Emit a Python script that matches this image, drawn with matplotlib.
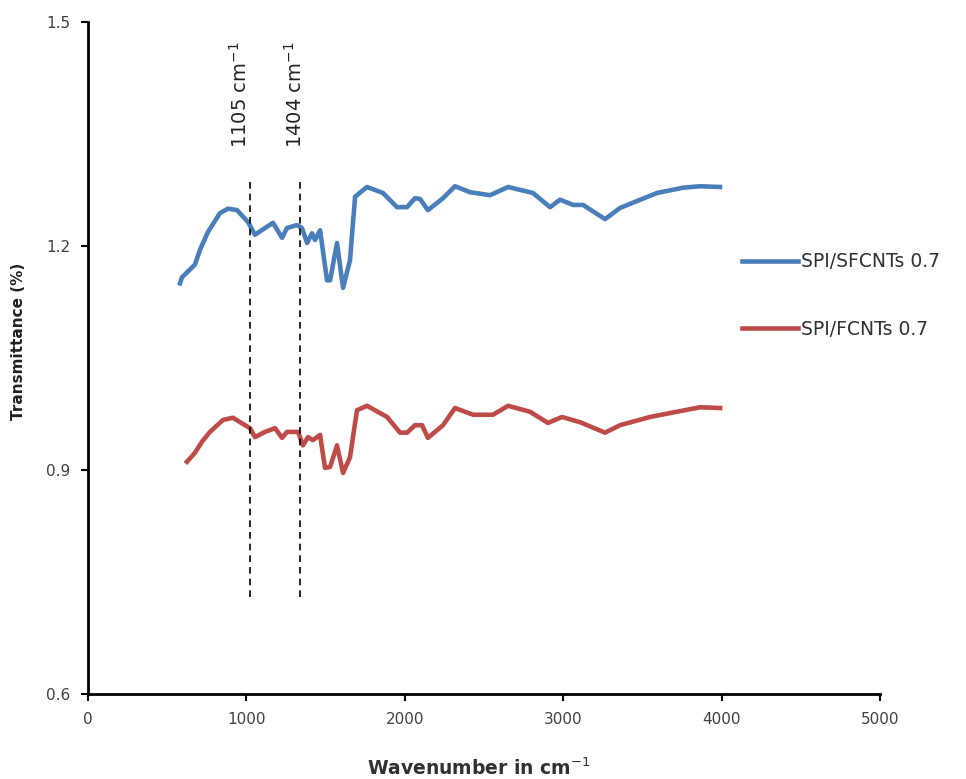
import numpy as np
import matplotlib.pyplot as plt

# - FTIR transmittance spectra
wn_sfcnt = [581, 593, 675, 707, 758, 833, 884, 941, 1010, 1054, 1117, 1168,
            1225, 1256, 1319, 1351, 1383, 1414, 1433, 1465, 1509, 1528, 1572,
            1610, 1654, 1686, 1761, 1862, 1951, 2014, 2064, 2096, 2146, 2241,
            2317, 2412, 2538, 2652, 2809, 2917, 2980, 3062, 3125, 3264, 3359,
            3592, 3756, 3864, 3990]
tr_sfcnt = [1.150, 1.158, 1.175, 1.195, 1.219, 1.244, 1.250, 1.248, 1.232,
            1.215, 1.224, 1.231, 1.211, 1.224, 1.228, 1.224, 1.204, 1.217,
            1.208, 1.221, 1.154, 1.154, 1.204, 1.144, 1.181, 1.266, 1.279,
            1.271, 1.252, 1.252, 1.264, 1.263, 1.248, 1.264, 1.280, 1.272,
            1.268, 1.279, 1.271, 1.252, 1.262, 1.255, 1.255, 1.236, 1.251,
            1.271, 1.278, 1.280, 1.279]

wn_fcnt = [625, 675, 720, 770, 852, 915, 960, 1023, 1054, 1117, 1181, 1225,
           1256, 1326, 1357, 1389, 1420, 1465, 1496, 1528, 1572, 1610, 1654,
           1698, 1761, 1888, 1970, 2014, 2064, 2109, 2146, 2241, 2317, 2431,
           2557, 2652, 2790, 2904, 2992, 3106, 3264, 3359, 3548, 3718, 3864,
           3990]
tr_fcnt = [0.911, 0.923, 0.938, 0.951, 0.967, 0.970, 0.964, 0.956, 0.944,
           0.951, 0.956, 0.943, 0.951, 0.951, 0.933, 0.944, 0.940, 0.947,
           0.903, 0.904, 0.933, 0.896, 0.917, 0.980, 0.986, 0.971, 0.950,
           0.950, 0.960, 0.960, 0.943, 0.960, 0.983, 0.974, 0.974, 0.986,
           0.978, 0.963, 0.971, 0.964, 0.950, 0.960, 0.971, 0.978, 0.984,
           0.983]

labels = ['SPI/SFCNTs 0.7', 'SPI/FCNTs 0.7']

# - marker bands (line position, label text)
band_x = [1023, 1338]
band_text = ['1105 cm$^{-1}$', '1404 cm$^{-1}$']
band_text_x = [960, 1308]

x_ticks = [0, 1000, 2000, 3000, 4000, 5000]
y_ticks = [0.6, 0.9, 1.2, 1.5]

fig = plt.figure(figsize=(9.66, 7.79), dpi=100)
ax = fig.add_axes([0.0911, 0.1091, 0.8199, 0.8627])

ax.plot(wn_sfcnt, tr_sfcnt, color='#4a7ebb', lw=3.3, label=labels[0],
        solid_joinstyle='round')
ax.plot(wn_fcnt, tr_fcnt, color='#be4b48', lw=3.3, label=labels[1],
        solid_joinstyle='round')

ax.vlines(band_x, 0.730, 1.288, colors='k', linestyles=(0, (4, 3)), lw=1.2)
for xt, txt in zip(band_text_x, band_text):
    ax.text(xt, 1.402, txt, rotation=90, ha='center', va='center',
            fontsize=14, color='#222222')

ax.set_xlim(0, 5000)
ax.set_ylim(0.6, 1.5)
ax.set_xticks(x_ticks)
ax.set_yticks(y_ticks)
ax.set_yticklabels([f'{v:.1f}' for v in y_ticks])
ax.tick_params(direction='out', length=5, width=1.5, labelsize=11,
               labelcolor='#404040', pad=8)
for side in ['top', 'right']:
    ax.spines[side].set_visible(False)
for side in ['left', 'bottom']:
    ax.spines[side].set_linewidth(2)

ax.set_xlabel('Wavenumber in cm$^{-1}$', fontsize=13.5, fontweight='bold',
              color='#303030')
ax.set_ylabel('Transmittance (%)', fontsize=11, fontweight='bold',
              color='#202020')
ax.xaxis.set_label_coords(0.494, -0.094)
ax.yaxis.set_label_coords(-0.078, 0.524)

ax.legend(loc='center left', bbox_to_anchor=(0.826, 0.593), frameon=False,
          fontsize=13.5, handlelength=3.0, handletextpad=0.15,
          labelspacing=2.6, borderaxespad=0, borderpad=0,
          labelcolor='#303030')

plt.savefig('out.png', dpi=100)
plt.close()
